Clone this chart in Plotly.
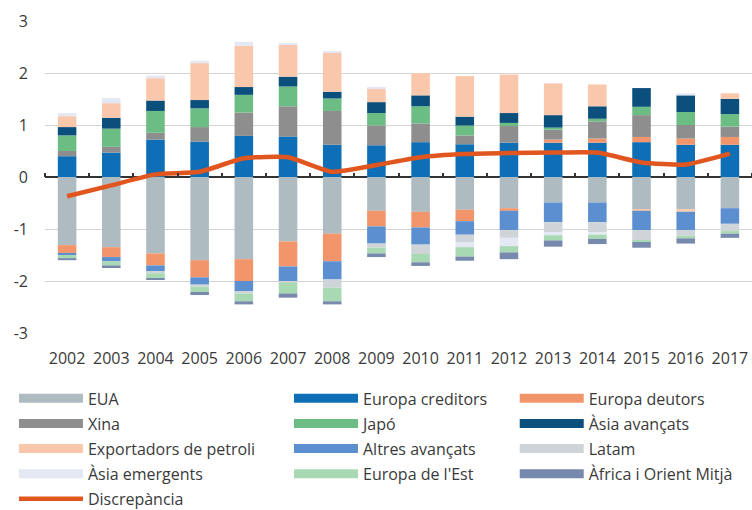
import plotly.graph_objects as go

years = list(range(2002, 2018))
year_labels = [str(y) for y in years]

eua = [-1.31, -1.35, -1.47, -1.60, -1.58, -1.24, -1.09, -0.65, -0.67, -0.63, -0.60, -0.49, -0.49, -0.62, -0.62, -0.60]
europa_creditors = [0.40, 0.47, 0.72, 0.68, 0.79, 0.78, 0.62, 0.61, 0.67, 0.63, 0.66, 0.66, 0.66, 0.67, 0.62, 0.62]
europa_deutors = [-0.15, -0.19, -0.23, -0.33, -0.42, -0.48, -0.53, -0.30, -0.30, -0.22, -0.05, 0.06, 0.08, 0.10, 0.12, 0.15]
xina = [0.10, 0.11, 0.13, 0.28, 0.45, 0.58, 0.65, 0.38, 0.36, 0.17, 0.32, 0.19, 0.33, 0.42, 0.26, 0.20]
japo = [0.30, 0.35, 0.42, 0.36, 0.34, 0.38, 0.24, 0.24, 0.33, 0.19, 0.06, 0.04, 0.05, 0.16, 0.25, 0.24]
asia_avancats = [0.16, 0.21, 0.20, 0.16, 0.15, 0.19, 0.13, 0.21, 0.21, 0.17, 0.19, 0.24, 0.24, 0.36, 0.32, 0.29]
exportadors_petroli = [0.21, 0.28, 0.43, 0.71, 0.79, 0.61, 0.76, 0.26, 0.43, 0.78, 0.74, 0.61, 0.42, -0.03, -0.05, 0.11]
altres_avancats = [-0.04, -0.08, -0.12, -0.14, -0.21, -0.29, -0.35, -0.33, -0.33, -0.26, -0.37, -0.38, -0.38, -0.37, -0.35, -0.30]
latam = [0.0, 0.0, -0.03, -0.04, -0.03, -0.02, -0.16, -0.08, -0.18, -0.14, -0.15, -0.19, -0.19, -0.21, -0.11, -0.14]
asia_emergents = [0.06, 0.10, 0.05, 0.045, 0.08, 0.03, 0.02, 0.02, 0.0, -0.10, -0.16, -0.06, -0.05, 0.0, 0.04, 0.0]
europa_est = [-0.06, -0.08, -0.10, -0.10, -0.15, -0.21, -0.26, -0.11, -0.16, -0.18, -0.12, -0.10, -0.08, -0.02, -0.05, -0.05]
africa_om = [-0.04, -0.05, -0.03, -0.06, -0.06, -0.08, -0.06, -0.07, -0.07, -0.08, -0.13, -0.12, -0.10, -0.11, -0.10, -0.08]
discrepancia = [-0.37, -0.16, 0.05, 0.10, 0.36, 0.38, 0.10, 0.23, 0.38, 0.44, 0.46, 0.47, 0.47, 0.28, 0.24, 0.45]

y_ticks = [-3, -2, -1, 0, 1, 2, 3]
y_tick_labels = ["-3", "-2", "-1", "0", "1", "2", "3"]

# (name, values, colour) in stacking order
series = [
    ("EUA", eua, "#AEBCC1"),
    ("Europa creditors", europa_creditors, "#0E6FB7"),
    ("Europa deutors", europa_deutors, "#F3956A"),
    ("Xina", xina, "#8E8E8E"),
    ("Japó", japo, "#6CBD84"),
    ("Àsia avançats", asia_avancats, "#0B4F7C"),
    ("Exportadors de petroli", exportadors_petroli, "#F9C8AC"),
    ("Altres avançats", altres_avancats, "#5C8FD0"),
    ("Latam", latam, "#CED4D7"),
    ("Àsia emergents", asia_emergents, "#E3E8F3"),
    ("Europa de l'Est", europa_est, "#A9D9B2"),
    ("Àfrica i Orient Mitjà", africa_om, "#7789AD"),
]
colors = {n: c for n, _, c in series}
line_color = "#E1561F"

legend_columns = [
    ["EUA", "Xina", "Exportadors de petroli", "Àsia emergents"],
    ["Europa creditors", "Japó", "Altres avançats", "Europa de l'Est"],
    ["Europa deutors", "Àsia avançats", "Latam", "Àfrica i Orient Mitjà"],
]
legend_ids = ["legend", "legend2", "legend3"]

fig = go.Figure()
for name, vals, col in series:
    fig.add_trace(go.Bar(x=years, y=vals, name=name, marker=dict(color=col, line=dict(width=0)),
                         showlegend=False))

fig.add_trace(go.Scatter(x=years, y=discrepancia, name="Discrepància", mode="lines",
                         line=dict(color=line_color, width=4.5, shape="spline", smoothing=0.5),
                         xaxis="x2", legend="legend", legendgroup="Discrepància", legendrank=10))

# legend entries (wide rectangular keys)
for lid, names in zip(legend_ids, legend_columns):
    for i, n in enumerate(names):
        fig.add_trace(go.Scatter(x=[None], y=[None], mode="lines", name=n,
                                 line=dict(color=colors[n], width=9),
                                 legend=lid, legendgroup=n, legendrank=i, showlegend=True))

font_family = "Open Sans"
text_color = "#3a3a3a"
leg_common = dict(orientation="v", yanchor="top", xanchor="left", yref="container", y=0.2521,
                  font=dict(family=font_family, size=16, color=text_color),
                  itemwidth=64, tracegroupgap=1.3, bgcolor="rgba(0,0,0,0)",
                  groupclick="toggleitem")

fig.update_layout(
    width=752, height=510,
    margin=dict(l=45, r=0, t=21, b=177),
    paper_bgcolor="white", plot_bgcolor="white",
    barmode="relative", bargap=0.58,
    font=dict(family=font_family, color=text_color),
    xaxis=dict(range=[2001.5, 2017.5], tickvals=years, ticktext=year_labels,
               showgrid=False, zeroline=False, showline=False, ticks="",
               ticklabelstandoff=14, tickfont=dict(size=16, color=text_color)),
    xaxis2=dict(range=[2001.5, 2017.5], overlaying="x", anchor="free", position=0.5,
                side="top", tickvals=[y - 0.5 for y in years] + [2017.5], ticks="outside",
                ticklen=4, tickwidth=1.5, tickcolor="#333333", showticklabels=False,
                showgrid=False, zeroline=False, showline=False),
    yaxis=dict(range=[-3, 3], tickvals=y_ticks, ticktext=y_tick_labels,
               showgrid=True, gridcolor="#d4d4d4", gridwidth=1.2,
               zeroline=True, zerolinecolor="#333333", zerolinewidth=1.5,
               ticklabelstandoff=16, tickfont=dict(size=16, color=text_color)),
    legend=dict(x=-0.0439, **leg_common),
    legend2=dict(x=0.3451, **leg_common),
    legend3=dict(x=0.6644, **leg_common),
)

fig.write_html("out.html", config={"displayModeBar": False},
               post_script="document.body.style.margin='0';document.body.style.overflow='hidden';")
